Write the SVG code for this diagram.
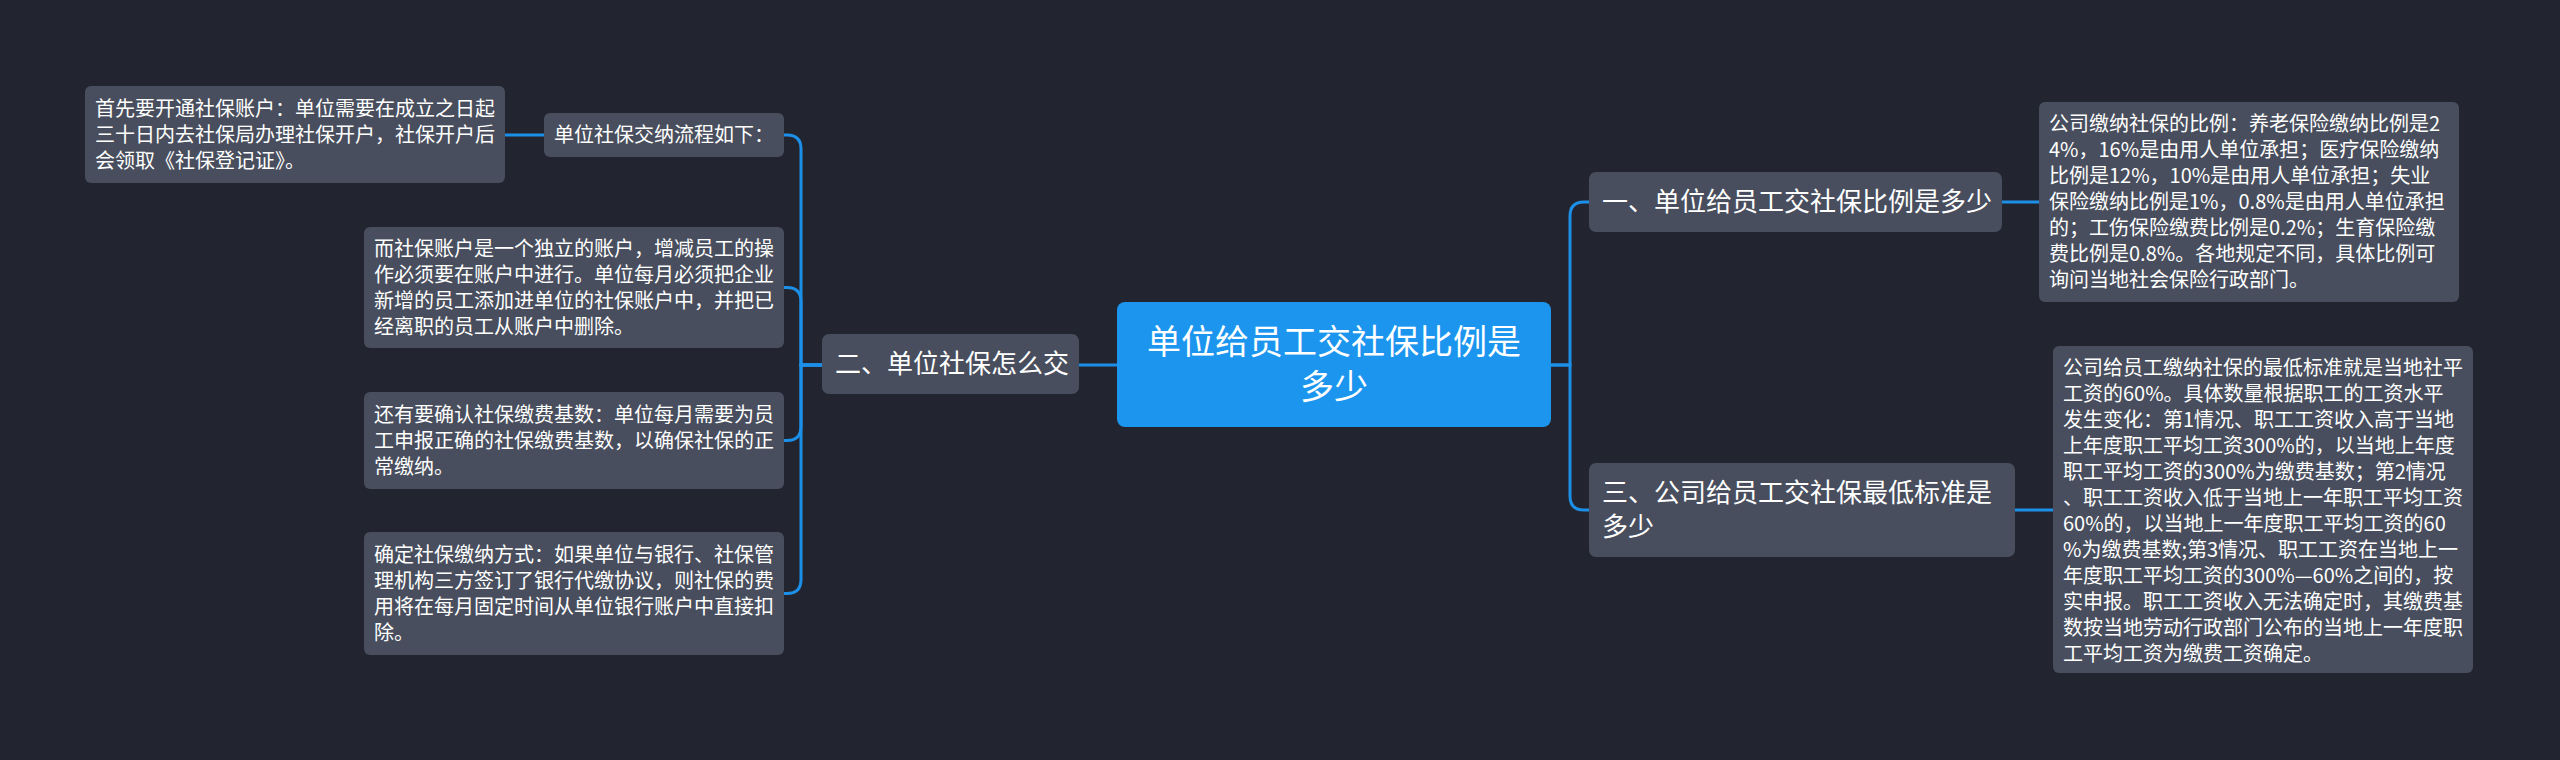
<svg xmlns="http://www.w3.org/2000/svg" width="2560" height="760" viewBox="0 0 2560 760">
<style>
.bg{fill:#22252f}
.box{fill:#484e5d}
.root{fill:#1b95ee}
.t{font-family:"Noto Sans CJK SC","Noto Sans",sans-serif;fill:#ffffff}
.leaf{font-size:20px}
.l1{font-size:26px}
.rt{font-size:34px;text-anchor:middle}
.c{fill:none;stroke:#1c8fe8;stroke-width:3;stroke-linecap:round}
</style>
<rect class="bg" x="0" y="0" width="2560" height="760"/>
<g id="connectors">
<path class="c" d="M1551 365 H1570 V216 Q1570 202 1584 202 H1589"/>
<path class="c" d="M1551 365 H1570 V496 Q1570 510 1584 510 H1589"/>
<path class="c" d="M2002 202 H2039"/>
<path class="c" d="M2015 510 H2053"/>
<path class="c" d="M1117 365 H1079"/>
<path class="c" d="M822 365 H801 V149 Q801 135 787 135 H784"/>
<path class="c" d="M822 365 H801 V301.5 Q801 287.5 787 287.5 H784"/>
<path class="c" d="M822 365 H801 V426.5 Q801 440.5 787 440.5 H784"/>
<path class="c" d="M822 365 H801 V579.5 Q801 593.5 787 593.5 H784"/>
<path class="c" d="M544 135 H505"/>
</g>
<g id="root">
<rect class="root" x="1117" y="302" width="434" height="125" rx="8"/>
<text class="t rt" x="1334" y="354">单位给员工交社保比例是</text>
<text class="t rt" x="1334" y="399">多少</text>
</g>
<g id="n-left1">
<rect class="box" x="822" y="334" width="257" height="60" rx="7"/>
<text class="t l1" x="835" y="373">二、单位社保怎么交</text>
</g>
<g id="n-right1">
<rect class="box" x="1589" y="172" width="413" height="60" rx="7"/>
<text class="t l1" x="1602" y="211">一、单位给员工交社保比例是多少</text>
</g>
<g id="n-right3">
<rect class="box" x="1589" y="463" width="426" height="94" rx="7"/>
<text class="t l1" x="1602" y="502">三、公司给员工交社保最低标准是</text>
<text class="t l1" x="1602" y="536">多少</text>
</g>
<g id="n-flow">
<rect class="box" x="544" y="113" width="240" height="44" rx="6"/>
<text class="t leaf" x="554" y="142">单位社保交纳流程如下：</text>
</g>
<g id="leaf-open">
<rect class="box" x="85" y="86" width="420" height="97" rx="6"/>
<text class="t leaf" x="95" y="115.5">首先要开通社保账户：单位需要在成立之日起</text>
<text class="t leaf" x="95" y="141.5">三十日内去社保局办理社保开户，社保开户后</text>
<text class="t leaf" x="95" y="167.5">会领取《社保登记证》。</text>
</g>
<g id="leaf-account">
<rect class="box" x="364" y="227" width="420" height="121" rx="6"/>
<text class="t leaf" x="374" y="255.5">而社保账户是一个独立的账户，增减员工的操</text>
<text class="t leaf" x="374" y="281.5">作必须要在账户中进行。单位每月必须把企业</text>
<text class="t leaf" x="374" y="307.5">新增的员工添加进单位的社保账户中，并把已</text>
<text class="t leaf" x="374" y="333.5">经离职的员工从账户中删除。</text>
</g>
<g id="leaf-base">
<rect class="box" x="364" y="392" width="420" height="97" rx="6"/>
<text class="t leaf" x="374" y="421.5">还有要确认社保缴费基数：单位每月需要为员</text>
<text class="t leaf" x="374" y="447.5">工申报正确的社保缴费基数，以确保社保的正</text>
<text class="t leaf" x="374" y="473.5">常缴纳。</text>
</g>
<g id="leaf-method">
<rect class="box" x="364" y="532" width="420" height="123" rx="6"/>
<text class="t leaf" x="374" y="561.5">确定社保缴纳方式：如果单位与银行、社保管</text>
<text class="t leaf" x="374" y="587.5">理机构三方签订了银行代缴协议，则社保的费</text>
<text class="t leaf" x="374" y="613.5">用将在每月固定时间从单位银行账户中直接扣</text>
<text class="t leaf" x="374" y="639.5">除。</text>
</g>
<g id="leaf-ratio">
<rect class="box" x="2039" y="102" width="420" height="200" rx="6"/>
<text class="t leaf" x="2049" y="131">公司缴纳社保的比例：养老保险缴纳比例是2</text>
<text class="t leaf" x="2049" y="157">4%，16%是由用人单位承担；医疗保险缴纳</text>
<text class="t leaf" x="2049" y="183">比例是12%，10%是由用人单位承担；失业</text>
<text class="t leaf" x="2049" y="209">保险缴纳比例是1%，0.8%是由用人单位承担</text>
<text class="t leaf" x="2049" y="235">的；工伤保险缴费比例是0.2%；生育保险缴</text>
<text class="t leaf" x="2049" y="261">费比例是0.8%。各地规定不同，具体比例可</text>
<text class="t leaf" x="2049" y="287">询问当地社会保险行政部门。</text>
</g>
<g id="leaf-min">
<rect class="box" x="2053" y="346" width="420" height="327" rx="6"/>
<text class="t leaf" x="2063" y="375">公司给员工缴纳社保的最低标准就是当地社平</text>
<text class="t leaf" x="2063" y="401">工资的60%。具体数量根据职工的工资水平</text>
<text class="t leaf" x="2063" y="427">发生变化：第1情况、职工工资收入高于当地</text>
<text class="t leaf" x="2063" y="453">上年度职工平均工资300%的，以当地上年度</text>
<text class="t leaf" x="2063" y="479">职工平均工资的300%为缴费基数；第2情况</text>
<text class="t leaf" x="2063" y="505">、职工工资收入低于当地上一年职工平均工资</text>
<text class="t leaf" x="2063" y="531">60%的，以当地上一年度职工平均工资的60</text>
<text class="t leaf" x="2063" y="557">%为缴费基数;第3情况、职工工资在当地上一</text>
<text class="t leaf" x="2063" y="583">年度职工平均工资的300%—60%之间的，按</text>
<text class="t leaf" x="2063" y="609">实申报。职工工资收入无法确定时，其缴费基</text>
<text class="t leaf" x="2063" y="635">数按当地劳动行政部门公布的当地上一年度职</text>
<text class="t leaf" x="2063" y="661">工平均工资为缴费工资确定。</text>
</g>
</svg>
